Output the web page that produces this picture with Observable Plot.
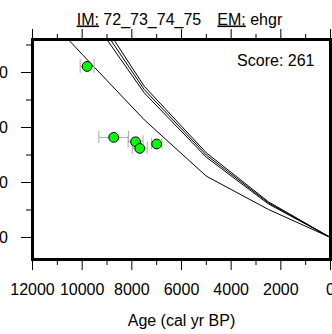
<!DOCTYPE html>
<html>
<head>
<meta charset="utf-8">
<script src="https://cdn.jsdelivr.net/npm/d3@7"></script>
<script src="https://cdn.jsdelivr.net/npm/@observablehq/plot@0.6"></script>
<style>
  html, body { margin: 0; padding: 0; background: white; overflow: hidden; }
  svg { display: block; }
</style>
</head>
<body>
<div id="chart"></div>
<script>
// ---- data ----
const modelAges = [0, 2500, 5000, 7500, 10000, 12000];
const modelA = [0, 6.5, 15.4, 27.5, 44.8, 58.5];
const modelB = [0, 6.3, 15.0, 26.9, 43.6, 57];
const modelC = [0, 6.1, 14.6, 26.3, 42.4, 55.5];
const modelLow = [0, 5.1, 11.15, 21.4, 33.3, 43];

const obsAge = [9800, 8730, 7850, 7680, 7000];
const obsValue = [31.1, 18.2, 17.4, 16.2, 17.0];
const obsAgeErr = [280, 600, 300, 300, 210];
const obsValueErr = [1.3, 1.1, 1.1, 1.1, 1.0];

const xMajor = [12000, 10000, 8000, 6000, 4000, 2000, 0];
const xMinor = [11000, 9000, 7000, 5000, 3000, 1000];
const yMajor = [0, 10, 20, 30];
const yMinor = [5, 15, 25, 35];

const titleIM = "72_73_74_75";
const titleEM = "ehgr";
const scoreText = "Score: 261";
const xLabel = "Age (cal yr BP)";

// ---- tables ----
const series = {A: modelA, B: modelB, C: modelC, L: modelLow};
const lines = [];
for (const [name, vals] of Object.entries(series)) {
  modelAges.forEach((a, i) => lines.push({series: name, age: a, value: vals[i]}));
}
const points = obsAge.map((a, i) => ({age: a, value: obsValue[i], ae: obsAgeErr[i], ve: obsValueErr[i]}));

const font = "'Liberation Sans', Arial, Helvetica, sans-serif";
const errColor = "#aaaaaa";

const plot = Plot.plot({
  width: 332,
  height: 334,
  marginLeft: 32,
  marginRight: 2,
  marginTop: 39,
  marginBottom: 75,
  style: {fontSize: "16px", fontFamily: font, color: "black", background: "white", overflow: "hidden"},
  x: {domain: [12000, 0], label: null},
  y: {domain: [-4, 36], label: null},
  marks: [
    Plot.line(lines, {x: "age", y: "value", z: "series", stroke: "black", strokeWidth: 1, clip: true}),
    Plot.link(points, {x1: d => d.age - d.ae, x2: d => d.age + d.ae, y1: "value", y2: "value", stroke: errColor, strokeWidth: 1}),
    Plot.ruleX(points, {x: d => d.age - d.ae, y1: d => d.value - d.ve, y2: d => d.value + d.ve, stroke: errColor, strokeWidth: 1}),
    Plot.ruleX(points, {x: d => d.age + d.ae, y1: d => d.value - d.ve, y2: d => d.value + d.ve, stroke: errColor, strokeWidth: 1}),
    Plot.dot(points, {x: "age", y: "value", r: 4.9, fill: "#00ff00", stroke: "black", strokeWidth: 1}),
    Plot.frame({stroke: "black", strokeWidth: 3}),
    Plot.axisX(xMajor, {anchor: "bottom", tickSize: 11, tickPadding: 13, fontSize: 16, label: null, tickFormat: d => String(d)}),
    Plot.axisX(xMinor, {anchor: "bottom", tickSize: 6, tickFormat: () => "", label: null}),
    Plot.axisX(xMajor, {anchor: "top", tickSize: 11, tickFormat: () => "", label: null}),
    Plot.axisX(xMinor, {anchor: "top", tickSize: 6, tickFormat: () => "", label: null}),
    Plot.axisY(yMajor, {anchor: "left", tickSize: 11, tickPadding: 13.5, fontSize: 16, label: null, tickFormat: d => String(d)}),
    Plot.axisY(yMinor, {anchor: "left", tickSize: 6, tickFormat: () => "", label: null}),
    Plot.text([scoreText], {text: d => d, frameAnchor: "top-right", textAnchor: "end", lineAnchor: "top", dx: -16, dy: 15, fontSize: 16}),
    Plot.text([xLabel], {text: d => d, frameAnchor: "bottom", textAnchor: "middle", lineAnchor: "top", dy: 55.5, fontSize: 16})
  ]
});

// title with underlined prefixes
const svg = d3.select(plot);
const t1 = svg.append("text").attr("x", 76.7).attr("y", 24.5).attr("text-anchor", "start").attr("font-size", 16).attr("font-family", font).attr("fill", "black");
t1.append("tspan").attr("text-decoration", "underline").text("IM:");
t1.append("tspan").text(" " + titleIM);
const t2 = svg.append("text").attr("x", 217.3).attr("y", 24.5).attr("text-anchor", "start").attr("font-size", 16).attr("font-family", font).attr("fill", "black");
t2.append("tspan").attr("text-decoration", "underline").text("EM:");
t2.append("tspan").text(" " + titleEM);

document.getElementById("chart").appendChild(plot);
</script>
</body>
</html>
